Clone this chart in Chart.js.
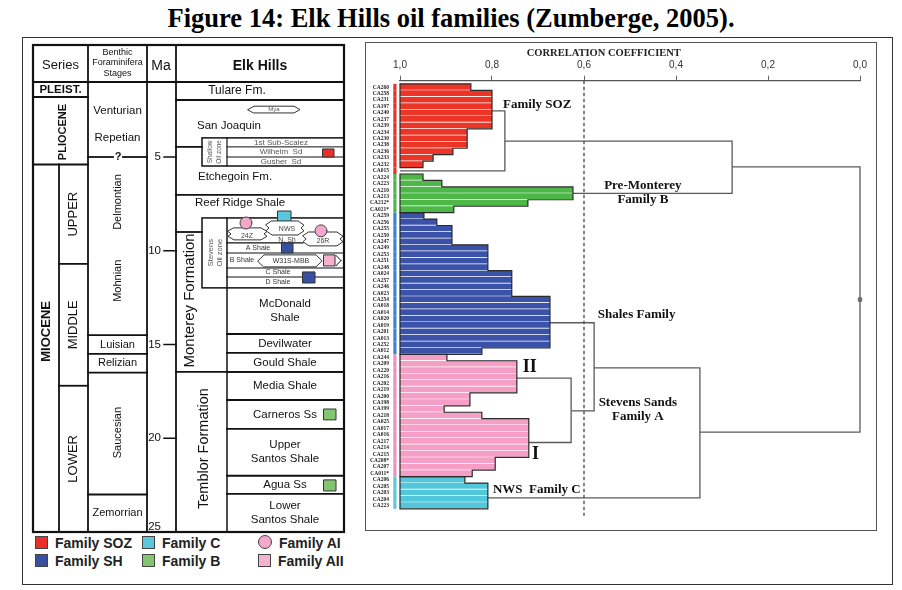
<!DOCTYPE html>
<html lang="en">
<head>
<meta charset="UTF-8">
<meta name="viewport" content="width=device-width, initial-scale=1.0">
<title>Elk Hills oil families</title>
<script src="https://cdn.jsdelivr.net/npm/chart.js"></script>
<style>
  body { margin: 0; background: #fff; font-family: "Liberation Sans", Arial, sans-serif; }
  #page { position: relative; width: 902px; height: 590px; overflow: hidden; }
  #title { position: absolute; left: 0; top: 3px; width: 902px; text-align: center; line-height: 30px;
           font: bold 26.5px "Liberation Serif", "Times New Roman", serif; color: #000; }
  #frame { position: absolute; left: 22px; top: 37px; width: 869px; height: 546px; border: 1.5px solid #333; }
  #panel { position: absolute; left: 365px; top: 42px; width: 510px; height: 487px; border: 1.5px solid #555; }
  .box { position: absolute; }
  .lg { position: absolute; font: bold 14px "Liberation Sans", Arial, sans-serif; color: #222; white-space: nowrap; line-height: 16px; }
  .sw { display: inline-block; width: 11px; height: 11px; border: 1px solid #444; margin-right: 7px; vertical-align: -1px; }
  .sw.round { border-radius: 50%; width: 12px; height: 12px; }
</style>
</head>
<body>
<div id="page">
  <div id="title">Figure 14: Elk Hills oil families (Zumberge, 2005).</div>
  <div id="frame"></div>
  <div id="panel"></div>
  <div class="box" style="left:0;top:40px;width:360px;height:495px"><canvas id="strat"></canvas></div>
  <div class="box" style="left:366px;top:43px;width:510px;height:487px"><canvas id="dendro"></canvas></div>

  <div class="lg" style="left:35px;top:535px"><span class="sw" style="background:#e8302a"></span>Family SOZ</div>
  <div class="lg" style="left:142px;top:535px"><span class="sw" style="background:#5cc6dc"></span>Family C</div>
  <div class="lg" style="left:258px;top:535px"><span class="sw round" style="background:#f4a7c9"></span>Family AI</div>
  <div class="lg" style="left:35px;top:553px"><span class="sw" style="background:#3950a0"></span>Family SH</div>
  <div class="lg" style="left:142px;top:553px"><span class="sw" style="background:#84c56f"></span>Family B</div>
  <div class="lg" style="left:258px;top:553px"><span class="sw" style="background:#f5b2cf"></span>Family AII</div>
</div>

<script>
const SANS = '"Liberation Sans", Arial, sans-serif';
const SERIF = '"Liberation Serif", "Times New Roman", serif';

// ---------- stratigraphic column (ages in Ma) ----------
const epochs = ['PLEIST.', 'PLIOCENE', 'MIOCENE'];
const epochBase = [1.8, 5.4, 25];
const subEpochs = ['UPPER', 'MIDDLE', 'LOWER'];
const subEpochBase = [10.7, 17.2, 25];
const stages = ['Venturian', 'Repetian', 'Delmontian', 'Mohnian', 'Luisian', 'Relizian', 'Saucesian', 'Zemorrian'];
const stageLabelMa = [2.54, 3.98, 7.4, 11.6, 15.0, 16.0, 19.7, 24.0];
const stageRot = [false, false, true, true, false, false, true, false];
const stageBreaks = [5.0, 14.5, 15.5, 16.5, 23.0];
const maTicks = [5, 10, 15, 20, 25];

const formations = ['Tulare Fm.', 'San Joaquin', 'Etchegoin Fm.', 'Reef Ridge Shale', 'Monterey Formation', 'Temblor Formation'];
const formationBase = [1.96, 4.46, 7.02, 9.0, 16.46, 25];
const shallowSands = ['1st Sub-Scalez', 'Wilhelm  Sd', 'Gusher  Sd'];
const shallowBreaks = [3.98, 4.46, 5.0, 5.48];
const stevensShales = ['A Shale', 'B Shale', 'C Shale', 'D Shale'];
const stevensBreaks = [8.25, 9.58, 10.12, 10.92, 11.4, 11.98];
const members = ['McDonald\nShale', 'Devilwater', 'Gould Shale', 'Media Shale', 'Carneros Ss', 'Upper\nSantos Shale', 'Agua Ss', 'Lower\nSantos Shale'];
const memberBase = [14.44, 15.45, 16.46, 17.96, 19.5, 22.0, 22.97, 25];

// ---------- dendrogram ----------
const sampleIds = [
  'CA260', 'CA258', 'CA231', 'CA197', 'CA240', 'CA237', 'CA239', 'CA234', 'CA230', 'CA238', 'CA236', 'CA233', 'CA232', 'CA015',
  'CA224', 'CA223', 'CA210', 'CA213', 'CA212*', 'CA021*',
  'CA259', 'CA256', 'CA255', 'CA250', 'CA247', 'CA249', 'CA253', 'CA251', 'CA248', 'CA024', 'CA257', 'CA246', 'CA023',
  'CA254', 'CA018', 'CA014', 'CA020', 'CA019', 'CA201', 'CA013', 'CA252', 'CA012',
  'CA244', 'CA209', 'CA220', 'CA216', 'CA202', 'CA219', 'CA200', 'CA198', 'CA199',
  'CA218', 'CA025', 'CA017', 'CA016', 'CA217', 'CA214', 'CA215', 'CA208*', 'CA207', 'CA011*',
  'CA206', 'CA205', 'CA203', 'CA204', 'CA223'
];
const familyOrder = ['SOZ', 'B', 'SH', 'A', 'C'];
const familySize = [14, 6, 22, 19, 5];
// correlation level reached by each leaf bar (null = leaf drawn as a line only)
const leafCorr = [
  0.846, 0.80, 0.80, 0.80, 0.80, 0.80, 0.80, 0.854, 0.854, 0.854, 0.885, 0.928, 0.95, null,
  0.95, 0.909, 0.624, 0.624, 0.722, 0.883,
  0.948, 0.92, 0.887, 0.887, 0.887, 0.809, 0.809, 0.809, 0.809, 0.757, 0.757, 0.757, 0.757,
  0.674, 0.674, 0.674, 0.674, 0.674, 0.674, 0.674, 0.674, 0.822,
  0.898, 0.746, 0.746, 0.746, 0.746, 0.746, 0.848, 0.848, 0.904,
  0.822, 0.72, 0.72, 0.72, 0.72, 0.72, 0.72, 0.793, 0.793, 0.843,
  0.859, 0.809, 0.809, 0.809, 0.809
];
// branches: [correlation, row] vertices
const branchSOZ = [[0.80, 3.7], [0.772, 3.7], [0.772, 13], [1.0, 13]];
const branchSOZB = [[0.772, 8.4], [0.278, 8.4], [0.278, 16.5], [0.624, 16.5]];
const branchRoot = [[0.278, 12.4], [0.0, 12.4], [0.0, 53.6], [0.348, 53.6]];
const branchSH = [[0.674, 36.6], [0.578, 36.6], [0.578, 50.3], [0.628, 50.3]];
const branchA = [[0.746, 45.2], [0.628, 45.2], [0.628, 55.2], [0.72, 55.2]];
const branchC = [[0.578, 43.6], [0.348, 43.6], [0.348, 63.8], [0.811, 63.8]];
const cutLevel = 0.6;
const dendroNotes = [
  ['Family SOZ', 0.776, 2.7, 13, 'left'],
  ['Pre-Monterey', 0.472, 15.3, 13, 'center'],
  ['Family B', 0.472, 17.5, 13, 'center'],
  ['Shales Family', 0.57, 35.4, 13, 'left'],
  ['II', 0.733, 43.6, 18, 'left'],
  ['Stevens Sands', 0.483, 49.0, 13, 'center'],
  ['Family A', 0.483, 51.2, 13, 'center'],
  ['I', 0.713, 57.1, 18, 'left'],
  ['NWS  Family C', 0.798, 62.5, 13, 'left']
];

const famColor = { SOZ: '#ec3427', B: '#4db848', SH: '#3a52a8', A: '#f59fc6', C: '#52c6da' };
const famStrip = { SOZ: '#e8302a', B: '#49b54a', SH: '#3f82cf', A: '#ee8fbd', C: '#59c7dd' };
const rowFamily = familyOrder.flatMap((f, k) => Array(familySize[k]).fill(f));
const barData = leafCorr.map((r, i) => r == null ? null : { x: [1, r], y: i }).filter(Boolean);

// column edges of the left table (page px)
const COL = { L: 33, S1: 59, S2: 88, B: 147, M: 176, E1: 202, E2: 227, R: 344 };

const stratPlugin = {
  id: 'stratColumn',
  afterDraw(chart) {
    const { ctx, chartArea: ca, scales } = chart;
    const X = v => scales.x.getPixelForValue(v);
    const Y = v => scales.y.getPixelForValue(v);
    const top = ca.top - 37, bot = Y(25);
    ctx.save();
    ctx.strokeStyle = '#111';
    ctx.lineCap = 'square';

    const seg = (x0, y0, x1, y1, w) => {
      ctx.lineWidth = w || 1.5; ctx.strokeStyle = '#111';
      ctx.beginPath(); ctx.moveTo(x0, y0); ctx.lineTo(x1, y1); ctx.stroke();
    };
    const hl = (c0, c1, ma, w) => seg(X(c0), Y(ma), X(c1), Y(ma), w);
    const vl = (c, ma0, ma1, w) => seg(X(c), Y(ma0), X(c), Y(ma1), w);
    const txt = (s, xv, py, size, o = {}) => {
      ctx.save();
      ctx.font = (o.bold ? 'bold ' : '') + size + 'px ' + SANS;
      ctx.fillStyle = o.color || '#111';
      ctx.textAlign = o.align || 'center';
      ctx.textBaseline = 'middle';
      ctx.translate(X(xv), py);
      if (o.rot) ctx.rotate(-Math.PI / 2);
      ctx.fillText(s, 0, 0);
      ctx.restore();
    };
    const shape = (pts, fill) => {
      ctx.beginPath();
      pts.forEach(([px, py], k) => k ? ctx.lineTo(px, py) : ctx.moveTo(px, py));
      ctx.closePath();
      ctx.fillStyle = fill; ctx.fill();
      ctx.lineWidth = 1; ctx.strokeStyle = '#333'; ctx.stroke();
    };
    const sq = (x0, x1, ma0, ma1, fill) => {
      const a = X(x0), b = X(x1), t = Y(ma0), u = Y(ma1);
      shape([[a, t], [b, t], [b, u], [a, u]], fill);
    };
    const hexa = (x0, x1, ma0, ma1) => {
      const a = X(x0), b = X(x1), t = Y(ma0), u = Y(ma1), m = (t + u) / 2;
      shape([[a, m], [a + 6, t], [b - 6, t], [b, m], [b - 6, u], [a + 6, u]], '#fff');
    };
    const lens = (x0, x1, ma0, ma1) => {
      const a = X(x0), b = X(x1), t = Y(ma0), u = Y(ma1), h = u - t, z = 6;
      shape([[a + z, t], [b - z, t], [b, t + h * 0.3], [b - z * 0.5, t + h * 0.5], [b, t + h * 0.7], [b - z, u],
             [a + z, u], [a, t + h * 0.7], [a + z * 0.5, t + h * 0.5], [a, t + h * 0.3]], '#fff');
    };
    const dot = (cx, ma, r, fill) => {
      ctx.beginPath(); ctx.arc(X(cx), Y(ma), r, 0, Math.PI * 2);
      ctx.fillStyle = fill; ctx.fill(); ctx.lineWidth = 1; ctx.strokeStyle = '#444'; ctx.stroke();
    };

    // header
    seg(X(COL.L), Y(1), X(COL.R), Y(1), 2);
    [COL.S2, COL.B, COL.M].forEach(c => seg(X(c), top, X(c), bot, 1.8));
    txt('Series', 60.5, top + 20, 13);
    txt('Benthic', 117.5, top + 7.5, 9);
    txt('Foraminifera', 117.5, top + 18, 9);
    txt('Stages', 117.5, top + 28.5, 9);
    txt('Ma', 161, top + 21, 14);
    txt('Elk Hills', 260, top + 21, 14, { bold: true });

    // series
    vl(COL.S1, epochBase[1], 25, 1.8);
    hl(COL.L, COL.S2, epochBase[0], 1.8);
    hl(COL.L, COL.S2, epochBase[1], 1.8);
    subEpochBase.slice(0, 2).forEach(m => hl(COL.S1, COL.S2, m, 1.8));
    txt(epochs[0], 60.5, Y((1 + epochBase[0]) / 2), 11.5, { bold: true });
    txt(epochs[1], 63, Y(3.67), 11, { bold: true, rot: true });
    txt(epochs[2], 46, Y(14.3), 13, { bold: true, rot: true });
    subEpochs.forEach((s, k) => {
      const t = k ? subEpochBase[k - 1] : epochBase[1];
      txt(s, 73.5, Y((t + subEpochBase[k]) / 2), 13, { rot: true });
    });

    // benthic stages
    seg(X(COL.S2), Y(stageBreaks[0]), X(113), Y(stageBreaks[0]), 1.8);
    seg(X(123), Y(stageBreaks[0]), X(COL.B), Y(stageBreaks[0]), 1.8);
    txt('?', 118, Y(stageBreaks[0]), 11, { bold: true });
    stageBreaks.slice(1).forEach(m => hl(COL.S2, COL.B, m, 1.8));
    stages.forEach((s, k) => txt(s, 117.5, Y(stageLabelMa[k]), k < 2 ? 11.5 : 11, { rot: stageRot[k] }));

    // Ma scale
    maTicks.forEach(m => {
      if (m < 25) {
        seg(X(164), Y(m), X(COL.M), Y(m), 1.5);
        txt(String(m), 161, Y(m), 11.5, { align: 'right' });
      } else {
        txt(String(m), 161, Y(24.72), 11.5, { align: 'right' });
      }
    });

    // Elk Hills formations
    hl(COL.M, COL.R, formationBase[0], 1.8);
    hl(COL.M, COL.E1, formationBase[1], 1.8);
    hl(COL.M, COL.R, formationBase[2], 1.8);
    hl(COL.M, COL.E1, formationBase[3], 1.8);
    hl(COL.M, COL.R, formationBase[4], 1.8);
    memberBase.slice(0, -1).forEach(m => hl(COL.E2, COL.R, m, 1.8));

    // shallow oil zone
    ctx.lineWidth = 1.5; ctx.strokeStyle = '#111';
    ctx.strokeRect(X(COL.E1), Y(shallowBreaks[0]), X(COL.R) - X(COL.E1), Y(shallowBreaks[3]) - Y(shallowBreaks[0]));
    vl(COL.E2, shallowBreaks[0], shallowBreaks[3], 1.2);
    hl(COL.E2, COL.R, shallowBreaks[1], 1);
    hl(COL.E2, COL.R, shallowBreaks[2], 1);
    shallowSands.forEach((s, k) => txt(s, 281, Y((shallowBreaks[k] + shallowBreaks[k + 1]) / 2), 8, { color: '#555' }));
    txt('Shallow', 210.5, Y(4.73), 6.5, { rot: true, color: '#555' });
    txt('Oil zone', 219, Y(4.73), 6.5, { rot: true, color: '#555' });

    // Stevens oil zone
    ctx.lineWidth = 1.5; ctx.strokeStyle = '#111';
    ctx.strokeRect(X(COL.E1), Y(stevensBreaks[0]), X(COL.R) - X(COL.E1), Y(stevensBreaks[5]) - Y(stevensBreaks[0]));
    vl(COL.E2, stevensBreaks[0], 25, 1.5);
    hl(COL.E2, 303, stevensBreaks[1], 1.2);
    [2, 3, 4].forEach(k => hl(COL.E2, COL.R, stevensBreaks[k], 1.2));
    txt('Stevens', 210.5, Y(10.1), 7.5, { rot: true, color: '#555' });
    txt('Oil zone', 219.5, Y(10.1), 7.5, { rot: true, color: '#555' });
    const shaleX = [258, 242, 278, 278];
    stevensShales.forEach((s, k) => txt(s, shaleX[k], Y((stevensBreaks[k + 1] + stevensBreaks[k + 2]) / 2), 7, { color: '#333' }));

    // labels
    txt(formations[0], 237, Y(1.48), 12);
    txt(formations[1], 197, Y(3.35), 11.5, { align: 'left' });
    txt(formations[2], 198, Y(6.06), 11.5, { align: 'left' });
    txt(formations[3], 195, Y(7.45), 11.5, { align: 'left' });
    txt(formations[4], 190, Y(12.65), 15, { rot: true });
    txt(formations[5], 204, Y(20.55), 14.5, { rot: true });
    members.forEach((s, k) => {
      const t = k ? memberBase[k - 1] : stevensBreaks[5];
      const mid = Y((t + memberBase[k]) / 2);
      const lines = s.split('\n');
      lines.forEach((ln, j) => txt(ln, 285, mid + (j - (lines.length - 1) / 2) * 14, 11.5));
    });

    // symbols
    hexa(248, 300, 2.29, 2.65);
    txt('Mya', 274, Y(2.47), 6, { color: '#555' });
    sq(323, 334, 4.57, 5.0, '#e8302a');
    sq(278, 291, 7.88, 8.52, '#5cc6dc');
    lens(228, 267, 8.78, 9.42);
    lens(303, 343, 9.0, 9.74);
    lens(266, 304, 8.41, 9.16);
    dot(246, 8.52, 6, '#f4a7c9');
    dot(321, 8.94, 6, '#f4a7c9');
    txt('24Z', 247, Y(9.21), 7, { color: '#444' });
    txt('NWS', 287, Y(8.84), 7, { color: '#444' });
    txt('N. Sh', 287, Y(9.42), 7, { color: '#444' });
    txt('26R', 323, Y(9.5), 7, { color: '#444' });
    sq(282, 293, 9.58, 10.12, '#3950a0');
    hexa(258, 322, 10.22, 10.86);
    txt('W31S-MBB', 291, Y(10.54), 7, { color: '#333' });
    sq(324, 335, 10.22, 10.81, '#f5b2cf');
    seg(X(336), Y(10.25), X(341), Y(10.52), 1);
    seg(X(341), Y(10.52), X(336), Y(10.8), 1);
    sq(303, 315, 11.13, 11.72, '#3950a0');
    sq(324, 336, 18.44, 19.02, '#84c56f');
    sq(324, 336, 22.22, 22.81, '#84c56f');

    // outer frame
    ctx.lineWidth = 2.2; ctx.strokeStyle = '#111';
    ctx.strokeRect(X(COL.L), top, X(COL.R) - X(COL.L), bot - top);
    ctx.restore();
  }
};

new Chart(document.getElementById('strat'), {
  type: 'scatter',
  data: { datasets: [] },
  options: {
    responsive: true,
    maintainAspectRatio: false,
    animation: false,
    events: [],
    layout: { padding: { left: 33, right: 16, top: 42, bottom: 3 } },
    plugins: { legend: { display: false }, tooltip: { enabled: false } },
    scales: {
      x: { type: 'linear', min: COL.L, max: COL.R, display: false },
      y: { type: 'linear', min: 1, max: 25, reverse: true, display: false }
    }
  },
  plugins: [stratPlugin]
});

const dendroPlugin = {
  id: 'dendroDecor',
  afterDatasetsDraw(chart) {
    const { ctx, chartArea: ca, scales } = chart;
    const X = v => scales.x.getPixelForValue(v);
    const Y = v => scales.y.getPixelForValue(v);
    ctx.save();

    // family colour strip
    rowFamily.forEach((f, i) => {
      ctx.fillStyle = famStrip[f];
      ctx.fillRect(ca.left - 6.7, Y(i - 0.5), 3.2, Y(i + 0.5) - Y(i - 0.5));
    });

    // block outlines
    const meta = chart.getDatasetMeta(0);
    const bars = meta.data.map((el, j) => ({ row: barData[j].y, p: el.getProps(['x', 'y', 'base', 'height'], true) }));
    const groups = [];
    bars.forEach(b => {
      const g = groups[groups.length - 1];
      const prev = g && g[g.length - 1];
      if (prev && rowFamily[prev.row] === rowFamily[b.row] && b.row - prev.row === 1) g.push(b);
      else groups.push([b]);
    });
    ctx.strokeStyle = '#2b2b2b';
    ctx.lineWidth = 1.2;
    groups.forEach(g => {
      const h = g[0].p.height;
      const left = Math.min(g[0].p.x, g[0].p.base);
      ctx.beginPath();
      ctx.moveTo(left, g[0].p.y - h / 2);
      g.forEach(b => {
        const right = Math.max(b.p.x, b.p.base);
        ctx.lineTo(right, b.p.y - h / 2);
        ctx.lineTo(right, b.p.y + h / 2);
      });
      const last = g[g.length - 1].p;
      ctx.lineTo(left, last.y + h / 2);
      ctx.closePath();
      ctx.stroke();
    });

    // axis title
    ctx.fillStyle = '#222';
    ctx.textAlign = 'center';
    ctx.textBaseline = 'middle';
    ctx.font = 'bold 10.5px ' + SERIF;
    ctx.fillText('CORRELATION COEFFICIENT', X(0.557), ca.top - 27.6);

    // notes
    dendroNotes.forEach(([s, r, row, size, align]) => {
      ctx.font = 'bold ' + size + 'px ' + SERIF;
      ctx.textAlign = align;
      ctx.fillStyle = '#111';
      ctx.fillText(s, X(r), Y(row));
    });
    ctx.restore();
  }
};

const lineSet = pts => ({
  type: 'line',
  indexAxis: 'x',
  data: pts.map(([r, row]) => ({ x: r, y: row })),
  borderColor: '#5a5a5a',
  borderWidth: 1.3,
  pointRadius: 0,
  tension: 0,
  fill: false,
  clip: false
});

new Chart(document.getElementById('dendro'), {
  type: 'bar',
  data: {
    datasets: [
      {
        type: 'bar',
        indexAxis: 'y',
        data: barData,
        backgroundColor: c => c.raw ? famColor[rowFamily[c.raw.y]] : '#ccc',
        borderColor: 'rgba(255,255,255,0.65)',
        borderWidth: { top: 0, right: 0, bottom: 1, left: 0 },
        borderSkipped: false,
        barPercentage: 1,
        categoryPercentage: 1
      },
      ...[branchSOZ, branchSOZB, branchRoot, branchSH, branchA, branchC].map(lineSet),
      {
        type: 'line',
        indexAxis: 'x',
        data: [{ x: cutLevel, y: -1 }, { x: cutLevel, y: 66.57 }],
        borderColor: '#444',
        borderWidth: 1.3,
        borderDash: [3.5, 2.5],
        pointRadius: 0,
        clip: false
      },
      {
        type: 'scatter',
        data: [{ x: 0, y: 33 }],
        pointStyle: 'rect',
        pointRadius: 2.4,
        backgroundColor: '#999',
        borderColor: '#666',
        borderWidth: 1,
        clip: false
      }
    ]
  },
  options: {
    responsive: true,
    maintainAspectRatio: false,
    animation: false,
    events: [],
    layout: { padding: { left: 0, right: 16, top: 0, bottom: 0 } },
    plugins: { legend: { display: false }, tooltip: { enabled: false } },
    scales: {
      x: {
        type: 'linear', position: 'top', min: 0, max: 1, reverse: true, offset: false,
        afterFit: s => { s.height = 37.65; },
        ticks: {
          stepSize: 0.2, padding: 4, color: '#333',
          font: { family: SANS, size: 10 },
          callback: v => Number(v).toFixed(1).replace('.', ',')
        },
        grid: { drawOnChartArea: false, offset: false, tickLength: 5, color: '#666', tickColor: '#666' },
        border: { color: '#555', width: 1.3 }
      },
      y: {
        type: 'linear', min: -1, max: 66.57, reverse: true, offset: false,
        afterFit: s => { s.width = 34; },
        afterBuildTicks: s => { s.ticks = sampleIds.map((_, i) => ({ value: i })); },
        ticks: {
          autoSkip: false, padding: 11, color: '#222',
          font: { family: SERIF, size: 5.5, weight: 'bold' },
          callback: v => sampleIds[v]
        },
        grid: { display: false, drawTicks: false, offset: false },
        border: { display: false }
      }
    }
  },
  plugins: [dendroPlugin]
});
</script>
</body>
</html>
